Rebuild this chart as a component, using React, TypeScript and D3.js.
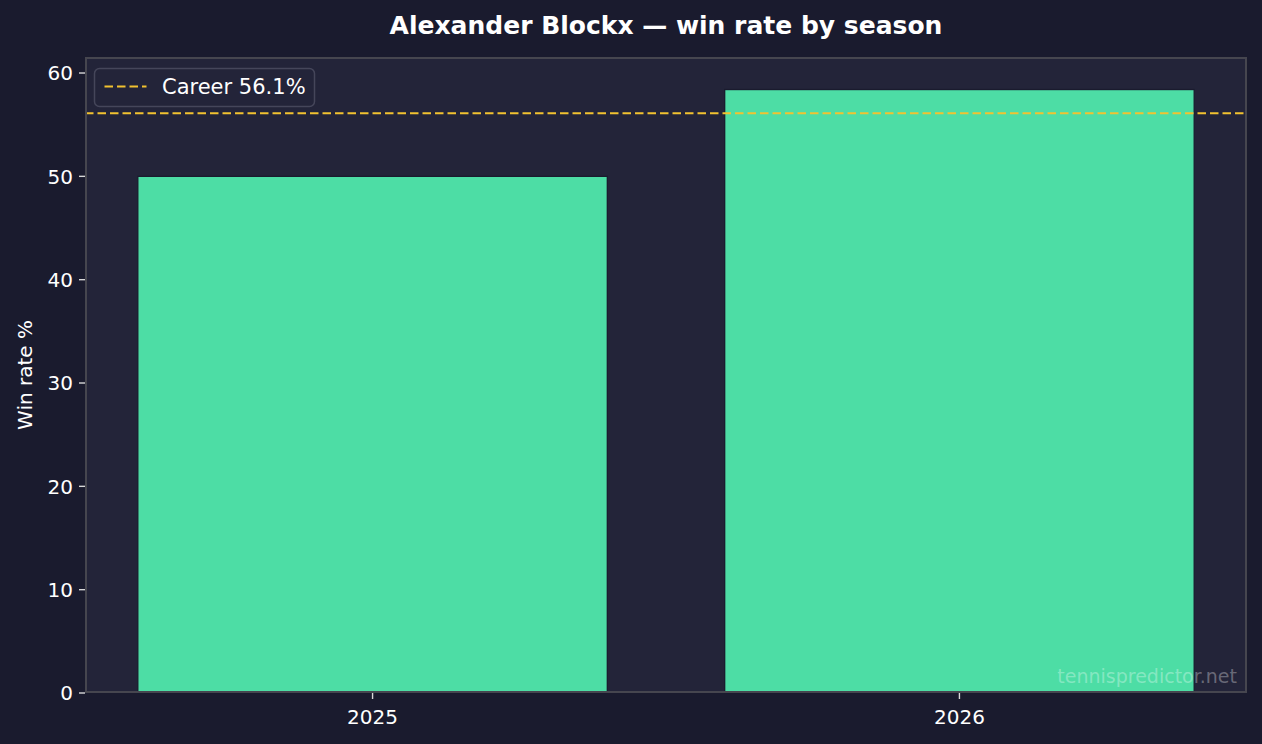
import React from 'react';
import * as d3 from 'd3';

const seasons = ['2025', '2026'];
const winRates = [50.0, 58.4];
const careerRate = 56.1;
const yTicks = [0, 10, 20, 30, 40, 50, 60];

const W = 1262;
const H = 744;
const margin = { top: 57, right: 15, bottom: 51, left: 85 };
const font = '"DejaVu Sans", sans-serif';

export default function App() {
  const innerW = W - margin.left - margin.right;
  const innerH = H - margin.top - margin.bottom;

  const x = d3.scaleLinear().domain([-0.49, seasons.length - 1 + 0.49]).range([0, innerW]);
  const y = d3.scaleLinear().domain([0, 61.55]).range([innerH, 0]);
  const barW = x(0.8) - x(0);

  return (
    <svg width={W} height={H} style={{ display: 'block', position: 'absolute', left: 0, top: 0 }} fontFamily={font}>
      <rect width={W} height={H} fill="#1a1b2e" />
      <text x={W / 2 + 35} y={34} textAnchor="middle" fill="#ffffff" fontSize={25} fontWeight="bold">
        Alexander Blockx — win rate by season
      </text>
      <g transform={`translate(${margin.left},${margin.top})`}>
        <rect width={innerW} height={innerH} fill="#232439" />
        {seasons.map((s, i) => (
          <rect
            key={s}
            x={x(i) - barW / 2}
            y={y(winRates[i])}
            width={barW}
            height={innerH - y(winRates[i])}
            fill="#4ddda5"
            stroke="#1a1b2e"
            strokeWidth={1.3}
          />
        ))}
        <line x1={0} x2={innerW} y1={y(careerRate)} y2={y(careerRate)} stroke="#f2c230" strokeWidth={2} strokeDasharray="8.5,4" />
        <rect x={1} y={1} width={innerW - 2} height={innerH - 2} fill="none" stroke="#46464f" strokeWidth={2} />
        {yTicks.map(t => (
          <g key={t} transform={`translate(0,${y(t)})`}>
            <line x1={-6} x2={0} stroke="#d8d8d8" strokeWidth={1.4} />
            <text x={-12} dy="0.36em" textAnchor="end" fill="#ffffff" fontSize={20}>{t}</text>
          </g>
        ))}
        {seasons.map((s, i) => (
          <g key={s} transform={`translate(${x(i)},${innerH})`}>
            <line y1={0} y2={6} stroke="#d8d8d8" strokeWidth={1.4} />
            <text y={31} textAnchor="middle" fill="#ffffff" fontSize={20}>{s}</text>
          </g>
        ))}
        <g transform={`translate(9.5,11.5)`}>
          <rect width={220} height={38} rx={5} fill="#232439" stroke="#45465a" strokeWidth={1.5} />
          <line x1={10} x2={52} y1={18} y2={18} stroke="#f2c230" strokeWidth={2} strokeDasharray="8.5,4" />
          <text x={67.5} y={18} dy="0.36em" fill="#ffffff" fontSize={21}>Career {careerRate}%</text>
        </g>
        <text x={innerW - 10} y={innerH - 10} textAnchor="end" fill="#ffffff" fillOpacity={0.33} fontSize={19}>
          tennispredictor.net
        </text>
      </g>
      <text transform={`translate(32,${margin.top + innerH / 2}) rotate(-90)`} textAnchor="middle" fill="#ffffff" fontSize={20}>
        Win rate %
      </text>
    </svg>
  );
}
